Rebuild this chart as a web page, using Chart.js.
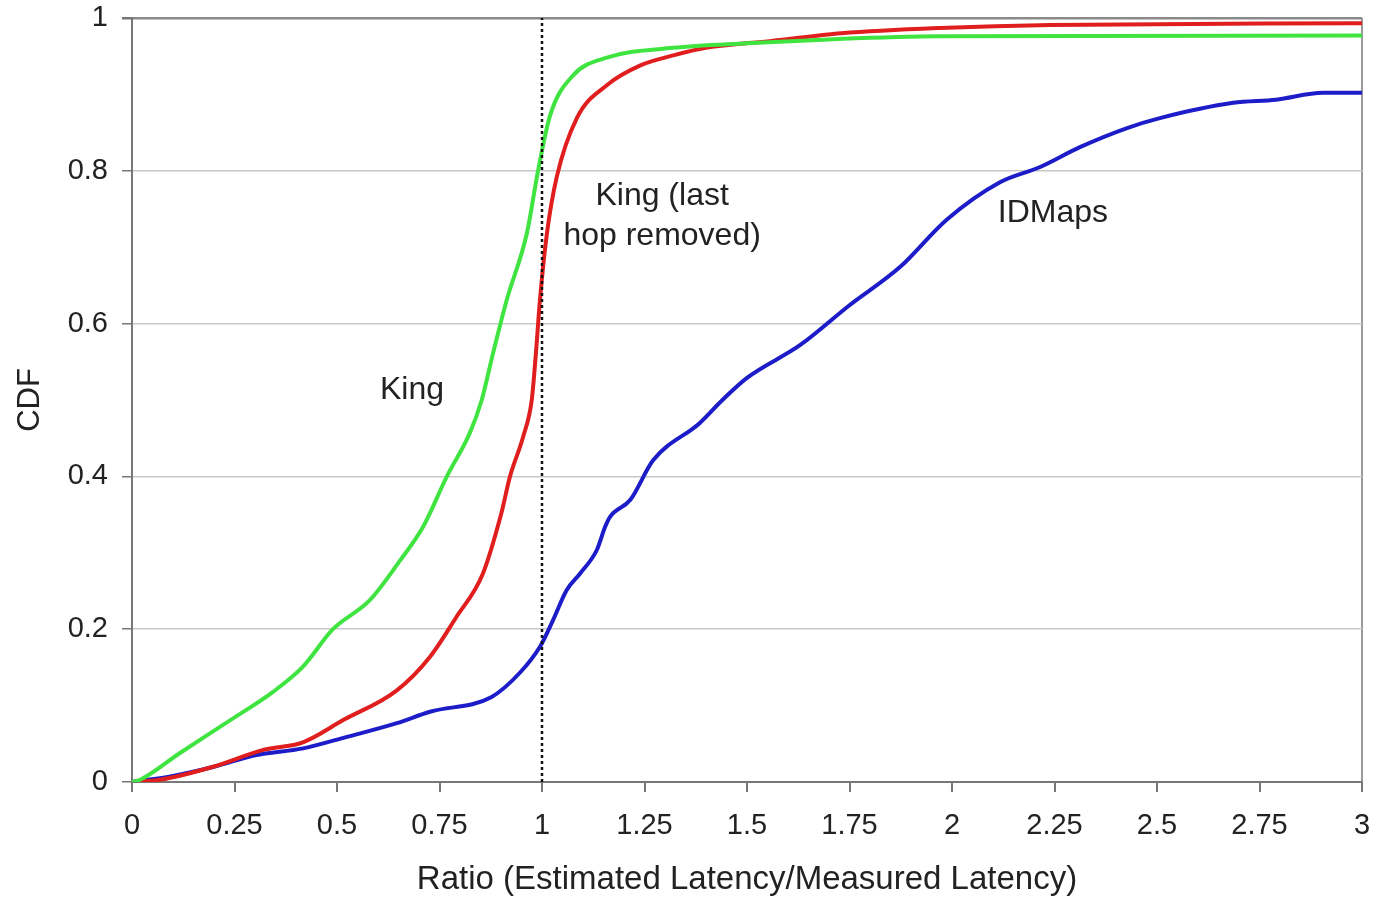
<!DOCTYPE html>
<html>
<head>
<meta charset="utf-8">
<script src="https://cdn.jsdelivr.net/npm/chart.js@4/dist/chart.umd.min.js"></script>
<style>
  html, body { margin: 0; padding: 0; background: #fff; }
  #wrap { width: 1376px; height: 897px; }
</style>
</head>
<body>
<div id="wrap"><canvas id="cdfChart"></canvas></div>
<script>
// CDF curves (x = ratio, y = CDF)
const kingX = [0, 0.02, 0.117, 0.24, 0.344, 0.417, 0.49, 0.58, 0.654, 0.71, 0.768, 0.824, 0.853, 0.88, 0.914, 0.963, 0.991, 1.02, 1.076, 1.158, 1.32, 1.5, 1.7, 1.97, 3.0];
const kingY = [0, 0.003, 0.038, 0.081, 0.118, 0.151, 0.2, 0.238, 0.29, 0.334, 0.4, 0.457, 0.5, 0.56, 0.631, 0.718, 0.802, 0.873, 0.925, 0.948, 0.961, 0.967, 0.972, 0.976, 0.977];

const lastHopX = [0, 0.068, 0.198, 0.32, 0.417, 0.515, 0.646, 0.727, 0.79, 0.856, 0.9, 0.922, 0.954, 0.975, 0.985, 0.995, 1.012, 1.036, 1.085, 1.158, 1.24, 1.32, 1.40, 1.56, 1.73, 1.97, 2.24, 3.0];
const lastHopY = [0, 0.003, 0.02, 0.042, 0.052, 0.081, 0.12, 0.164, 0.215, 0.273, 0.35, 0.4, 0.452, 0.5, 0.56, 0.631, 0.718, 0.792, 0.869, 0.912, 0.938, 0.951, 0.961, 0.97, 0.98, 0.987, 0.991, 0.993];

const idmapsX = [0, 0.1, 0.2, 0.3, 0.417, 0.524, 0.646, 0.727, 0.876, 0.946, 0.995, 1.027, 1.06, 1.093, 1.134, 1.154, 1.166, 1.215, 1.271, 1.385, 1.44, 1.5, 1.63, 1.75, 1.873, 1.987, 2.117, 2.215, 2.312, 2.427, 2.507, 2.686, 2.79, 2.905, 3.0];
const idmapsY = [0, 0.008, 0.02, 0.035, 0.044, 0.059, 0.077, 0.092, 0.111, 0.143, 0.177, 0.212, 0.251, 0.273, 0.304, 0.334, 0.347, 0.369, 0.421, 0.47, 0.5, 0.529, 0.572, 0.624, 0.674, 0.736, 0.785, 0.805, 0.831, 0.856, 0.869, 0.889, 0.893, 0.902, 0.902];

// dotted reference line at ratio = 1
const refX = [1, 1];
const refY = [0, 1];

const xTickLabels = ['0', '0.25', '0.5', '0.75', '1', '1.25', '1.5', '1.75', '2', '2.25', '2.5', '2.75', '3'];
const yTickLabels = ['0', '0.2', '0.4', '0.6', '0.8', '1'];

// curve labels, placed in data coordinates
const curveLabels = [
    { lines: ['King'], x: 0.683, y: 0.513 },
    { lines: ['King (last', 'hop removed)'], x: 1.293, y: 0.74 },
    { lines: ['IDMaps'], x: 2.246, y: 0.745 }
];

const FONT = '"Liberation Sans", Arial, sans-serif';

function toPoints(xs, ys) {
    return xs.map((x, i) => ({ x: x, y: ys[i] }));
}

const curveLabelPlugin = {
    id: 'curveLabels',
    afterDatasetsDraw(chart) {
        const ctx = chart.ctx;
        const xs = chart.scales.x;
        const ys = chart.scales.y;
        ctx.save();
        ctx.font = '32px ' + FONT;
        ctx.fillStyle = '#222';
        ctx.textAlign = 'center';
        ctx.textBaseline = 'middle';
        curveLabels.forEach(lbl => {
            const cx = xs.getPixelForValue(lbl.x);
            const cy = ys.getPixelForValue(lbl.y);
            const lh = 40;
            const top = cy - (lbl.lines.length - 1) * lh / 2;
            lbl.lines.forEach((t, i) => ctx.fillText(t, cx, top + i * lh));
        });
        ctx.restore();
    }
};

const lineStyle = (label, data, color) => ({
    label: label,
    data: data,
    borderColor: color,
    backgroundColor: color,
    borderWidth: 4,
    pointRadius: 0,
    cubicInterpolationMode: 'monotone',
    fill: false
});

const config = {
    type: 'line',
    data: {
        datasets: [
            {
                label: 'ratio = 1',
                data: toPoints(refX, refY),
                borderColor: '#111',
                borderWidth: 2.5,
                borderDash: [3, 3],
                pointRadius: 0,
                fill: false
            },
            lineStyle('King', toPoints(kingX, kingY), '#40e440'),
            lineStyle('King (last hop removed)', toPoints(lastHopX, lastHopY), '#e01e1e'),
            lineStyle('IDMaps', toPoints(idmapsX, idmapsY), '#1c1cc8')
        ]
    },
    options: {
        responsive: true,
        maintainAspectRatio: false,
        animation: false,
        layout: { padding: { top: 18, right: 14, left: 0, bottom: 0 } },
        plugins: {
            legend: { display: false },
            tooltip: { enabled: false }
        },
        scales: {
            x: {
                type: 'linear',
                min: 0,
                max: 3,
                afterFit: (scale) => {
                    scale.height = 115;
                    scale.paddingLeft = 0;
                    scale.paddingRight = 0;
                },
                ticks: {
                    stepSize: 0.25,
                    padding: 17,
                    color: '#222',
                    font: { family: FONT, size: 29 },
                    maxRotation: 0,
                    autoSkip: false,
                    callback: (value, index) => xTickLabels[index]
                },
                grid: {
                    color: (c) => (c.tick && c.tick.value === 3) ? '#9a9a9a' : 'rgba(0,0,0,0)',
                    lineWidth: 2,
                    tickColor: '#777',
                    tickLength: 10
                },
                border: { color: '#777', width: 2 },
                title: {
                    display: true,
                    text: 'Ratio (Estimated Latency/Measured Latency)',
                    color: '#222',
                    font: { family: FONT, size: 33 },
                    padding: { top: 17, bottom: -3 }
                }
            },
            y: {
                min: 0,
                max: 1,
                afterFit: (scale) => {
                    scale.width = 132;
                    scale.paddingTop = 0;
                    scale.paddingBottom = 0;
                },
                ticks: {
                    stepSize: 0.2,
                    padding: 14,
                    color: '#222',
                    font: { family: FONT, size: 29 },
                    callback: (value, index) => yTickLabels[index]
                },
                grid: {
                    color: (c) => (c.tick && c.tick.value === 1) ? '#8a8a8a' : '#c8c8c8',
                    lineWidth: (c) => (c.tick && c.tick.value === 1) ? 2.5 : 1.5,
                    tickColor: '#777',
                    tickLength: 10
                },
                border: { color: '#777', width: 2 },
                title: {
                    display: true,
                    text: 'CDF',
                    color: '#222',
                    font: { family: FONT, size: 31 },
                    padding: { top: 12, bottom: 0 }
                }
            }
        }
    },
    plugins: [curveLabelPlugin]
};

const myChart = new Chart(document.getElementById('cdfChart').getContext('2d'), config);
</script>
</body>
</html>
